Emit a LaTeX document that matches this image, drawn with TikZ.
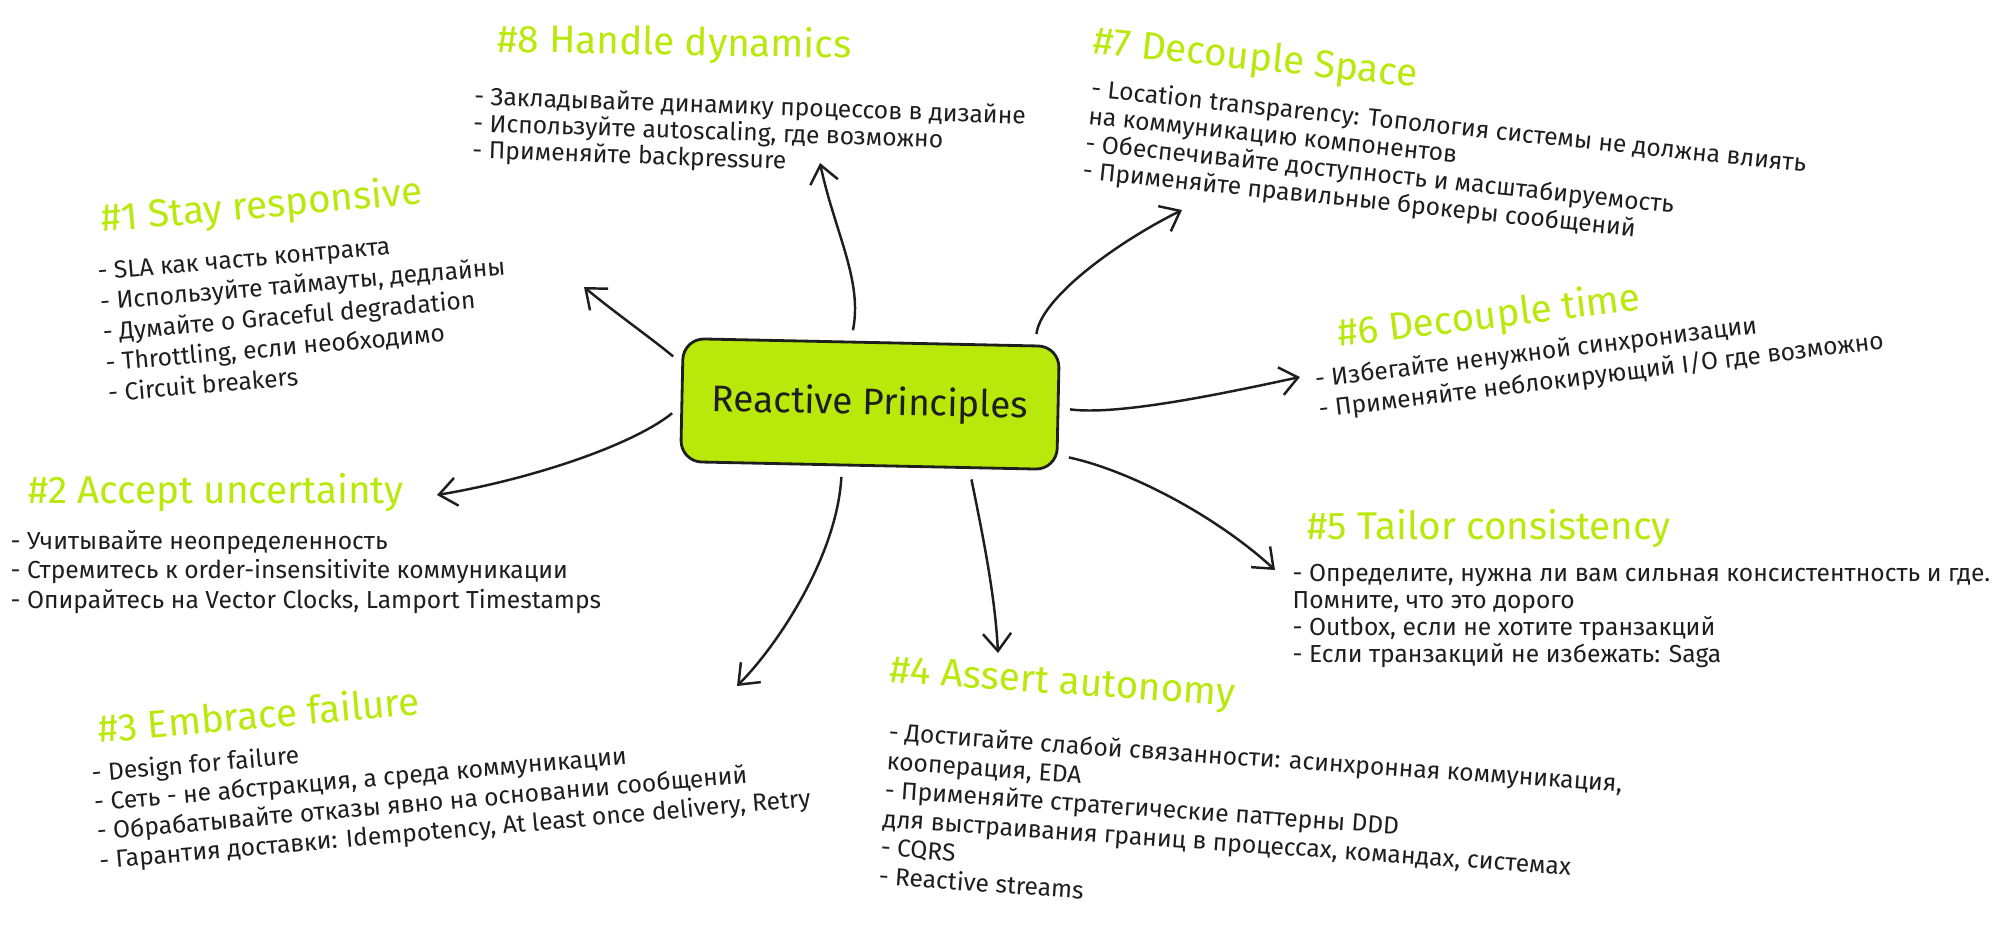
\documentclass[tikz,border=0pt]{standalone}
\usepackage{fontspec}
\setmainfont{Fira Sans}
\usetikzlibrary{arrows.meta}
\definecolor{ReactLime}{RGB}{184,233,10}
\definecolor{InkBlack}{RGB}{30,30,30}

\begin{document}
\begin{tikzpicture}[
  x=0.01cm, y=-0.01cm,
  every node/.style={font=\fontsize{7}{8.3}\selectfont, text=InkBlack},
  titletext/.style={anchor=base west, inner sep=0pt, text=ReactLime, font=\fontsize{11}{13}\selectfont},
  bodytext/.style={anchor=north west, inner sep=0pt, align=left, font=\fontsize{7}{#1}\selectfont},
  bodytext/.default=8.3,
  rootbox/.style={draw=InkBlack, fill=ReactLime, rounded corners=6pt, line width=0.8pt, minimum width=3.76cm, minimum height=1.23cm, font=\fontsize{10.5}{12}\selectfont},
  arrow/.style={-{Straight Barb[length=5pt,width=8pt]}, line width=0.7pt, draw=InkBlack, shorten <=3pt}
]
\useasboundingbox (0,0) rectangle (1999,936);

% Central topic
\node[rootbox, rotate=-1.2] (root) at (870,404) {Reactive Principles};

% #8 Handle dynamics
\node[titletext, rotate=-1] (t8) at (497,52) {\#8 Handle dynamics};
\node[bodytext=7.6, rotate=-2] (b8) at (474,85) {- Закладывайте динамику процессов в дизайне\\- Используйте autoscaling, где возможно\\- Применяйте backpressure};

% #7 Decouple Space
\node[titletext, rotate=-6] (t7) at (1092,53) {\#7 Decouple Space};
\node[bodytext=7.8, rotate=-6] (b7) at (1092,77) {- Location transparency: Топология системы не должна влиять\\на коммуникацию компонентов\\- Обеспечивайте доступность и масштабируемость\\- Применяйте правильные брокеры сообщений};

% #1 Stay responsive
\node[titletext, rotate=5] (t1) at (102,232) {\#1 Stay responsive};
\node[bodytext=8.7, rotate=5] (b1) at (96,262) {- SLA как часть контракта\\- Используйте таймауты, дедлайны\\- Думайте о Graceful degradation\\- Throttling, если необходимо\\- Circuit breakers};

% #6 Decouple time
\node[titletext, rotate=7] (t6) at (1339,347) {\#6 Decouple time};
\node[bodytext=8.7, rotate=7] (b6) at (1313,368) {- Избегайте ненужной синхронизации\\- Применяйте неблокирующий I/O где возможно};

% #2 Accept uncertainty
\node[titletext] (t2) at (28,503) {\#2 Accept uncertainty};
\node[bodytext=8.3] (b2) at (10,530) {- Учитывайте неопределенность\\- Стремитесь к order-insensitivite коммуникации\\- Опирайтесь на Vector Clocks, Lamport Timestamps};

% #5 Tailor consistency
\node[titletext] (t5) at (1307,539) {\#5 Tailor consistency};
\node[bodytext=7.6] (b5) at (1292,564) {- Определите, нужна ли вам сильная консистентность и где.\\Помните, что это дорого\\- Outbox, если не хотите транзакций\\- Если транзакций не избежать: Saga};

% #3 Embrace failure
\node[titletext, rotate=5] (t3) at (99,743) {\#3 Embrace failure};
\node[bodytext=8.3, rotate=5] (b3) at (90,762) {- Design for failure\\- Сеть - не абстракция, а среда коммуникации\\- Обрабатывайте отказы явно на основании сообщений\\- Гарантия доставки: Idempotency, At least once delivery, Retry};

% #4 Assert autonomy
\node[titletext, rotate=-4] (t4) at (889,682) {\#4 Assert autonomy};
\node[bodytext=8.2, rotate=-4] (b4) at (889,721) {- Достигайте слабой связанности: асинхронная коммуникация,\\кооперация, EDA\\- Применяйте стратегические паттерны DDD\\для выстраивания границ в процессах, командах, системах\\- CQRS\\- Reactive streams};

% Arrow tips
\coordinate (e1) at (584,287);
\coordinate (e2) at (437,495);
\coordinate (e3) at (737,686);
\coordinate (e4) at (998,653);
\coordinate (e5) at (1275,570);
\coordinate (e6) at (1300,377);
\coordinate (e7) at (1182,210);
\coordinate (e8) at (820,163);

% Connectors
\draw[arrow] (root.108) .. controls +(12,-60) and +(15,70) .. (e8);
\draw[arrow] (root.21) .. controls +(5,-45) and +(-70,35) .. (e7);
\draw[arrow] (root.east) .. controls +(60,8) and +(-70,15) .. (e6);
\draw[arrow] (root.-14) .. controls +(70,15) and +(-60,-55) .. (e5);
\draw[arrow] (root.-32) .. controls +(12,60) and +(-3,-60) .. (e4);
\draw[arrow] (root.-113) .. controls +(-5,90) and +(40,-40) .. (e3);
\draw[arrow] (root.182) .. controls +(-50,40) and +(90,-15) .. (e2);
\draw[arrow] (root.169) .. controls +(-30,-25) and +(30,25) .. (e1);
\end{tikzpicture}
\end{document}
